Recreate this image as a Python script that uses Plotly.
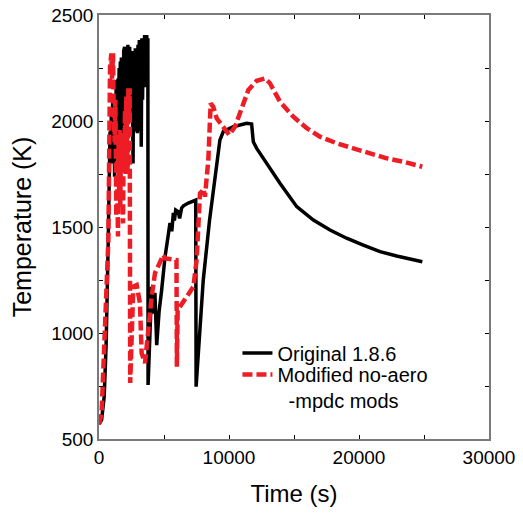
import plotly.graph_objects as go

# Original 1.8.6 (black, solid)
orig_t = [0, 200, 400, 550, 700, 800, 850, 900, 950, 1000, 1050, 1100, 1150, 1200,
          1250, 1300, 1330, 1380, 1420, 1460, 1500, 1550, 1590, 1640, 1680, 1720,
          1760, 1800, 1850, 1900, 1970, 2030, 2100, 2160, 2220, 2280, 2360, 2420,
          2480, 2540, 2580, 2620, 2660, 2700, 2740, 2790, 2840, 2900, 2950, 3000,
          3050, 3100, 3150, 3200, 3250, 3300, 3350, 3410, 3460, 3510, 3560, 3620,
          3670, 3720, 3760, 3775, 3900, 4050, 4180, 4300, 4440, 4620, 4820, 5080,
          5300, 5460, 5600, 5720, 5800, 5900, 6100, 6200, 6360, 6500, 6870, 7200,
          7440, 7470, 8020, 8500, 8920, 9300, 9560, 10330, 11360, 11740, 11870,
          12130, 12900, 13920, 15210, 16490, 17770, 19050, 20330, 21620, 22900,
          24180, 24870]
orig_T = [570, 590, 700, 950, 1400, 1700, 1950, 1800, 2050, 1850, 2100, 1800, 2000,
          1737, 2000, 2150, 2193, 1850, 1900, 2200, 2050, 2250, 2005, 2280, 1950, 2300,
          1850, 2250, 1870, 2330, 2350, 2150, 2340, 2050, 2360, 2150, 2350, 2200,
          2100, 2330, 1900, 1800, 2250, 2178, 1950, 2343, 2050, 2343, 1942, 2360,
          2000, 2382, 1950, 2370, 1879, 2390, 2100, 2390, 2300, 2406, 2160, 2400,
          2406, 2300, 2390, 755, 1000, 1218, 1092, 1190, 943, 1100, 1203, 1360,
          1450, 1519, 1480, 1566, 1530, 1580, 1572, 1540, 1590, 1600, 1613, 1620,
          1627, 747, 1250, 1530, 1722, 1910, 1950, 1973, 1989, 1986, 1902,
          1871, 1800, 1706, 1596, 1533, 1486, 1447, 1415, 1384, 1363,
          1348, 1336]

# Modified no-aero -mpdc mods (red, dashed)
mod_t = [0, 200, 330, 460, 590, 720, 850, 950, 1000, 1080, 1130, 1200, 1260, 1330,
         1380, 1420, 1460, 1500, 1550, 1590, 1640, 1680, 1720, 1780, 1850, 1900,
         1950, 2000, 2050, 2100, 2150, 2200, 2260, 2310, 2360, 2380, 2400, 2640,
         2900, 3150, 3280, 3540, 3700, 3920, 4050, 4310, 4690, 4950, 5080, 5960,
         5990, 6050, 6490, 7000, 7260, 7510, 7640, 7770, 7900, 8030, 8150, 8410,
         8590, 8790, 9050, 9560, 10020, 10460, 10980, 11490, 12130, 12770, 13150,
         13920, 14950, 15980, 17000, 18280, 19560, 20850, 22130, 23410, 24870]
mod_T = [570, 620, 825, 1000, 1250, 1439, 2256, 2319, 2200, 2319, 2050, 1900, 2100,
         1549, 1850, 1700, 1455, 1900, 1650, 1958, 1600, 1850, 1900, 1700, 1517, 1950,
         1800, 2050, 1750, 2115, 1900, 1753, 2154, 2000, 2154, 1800, 764, 1218,
         1226, 1140, 905, 858, 960, 1092, 1171, 1283, 1330, 1368, 1352, 1344,
         841, 1108, 1148, 1195, 1218, 1344, 1500, 1659, 1667, 1680, 1643, 1816,
         2083, 2067, 2013, 1973, 1934, 1973, 2068, 2146, 2190, 2201, 2178,
         2091, 2020, 1966, 1926, 1895, 1871, 1848, 1824, 1808, 1784]

x_ticks = [0, 10000, 20000, 30000]
y_ticks = [500, 1000, 1500, 2000, 2500]

FONT = "Liberation Sans, Arial, sans-serif"

fig = go.Figure()
fig.add_trace(go.Scatter(x=orig_t, y=orig_T, mode="lines", name="Original 1.8.6",
                         line=dict(color="black", width=3.5), legend="legend",
                         showlegend=True))
fig.add_trace(go.Scatter(x=mod_t, y=mod_T, mode="lines",
                         name="Modified no-aero<br>\u00a0\u00a0-mpdc mods",
                         line=dict(color="#ee1c25", width=4.5, dash="10px,4px"),
                         legend="legend2", showlegend=True))

axis_common = dict(showline=True, linecolor="#7a7a7a", linewidth=1.5, mirror="ticks",
                   ticks="inside", ticklen=4, tickcolor="black", tickwidth=1,
                   showgrid=False, zeroline=False, automargin=False,
                   tickfont=dict(family=FONT, size=19, color="black"))

fig.update_xaxes(range=[0, 30000], tickvals=x_ticks, ticktext=[str(v) for v in x_ticks],
                 minor=dict(dtick=5000, ticks="inside", ticklen=4, tickcolor="black"),
                 title=dict(text="Time (s)", font=dict(family=FONT, size=24, color="black"),
                            standoff=19),
                 **axis_common)
fig.update_yaxes(range=[500, 2500], tickvals=y_ticks, ticktext=[str(v) for v in y_ticks],
                 minor=dict(dtick=250, ticks="inside", ticklen=4, tickcolor="black"),
                 title=dict(text="Temperature (K)", font=dict(family=FONT, size=25, color="black"),
                            standoff=12),
                 **axis_common)

legend_style = dict(xanchor="left", yanchor="top", valign="top",
                    bgcolor="rgba(0,0,0,0)", font=dict(family=FONT, size=20, color="black"),
                    itemwidth=30, visible=True)

fig.update_layout(
    width=523, height=513,
    margin=dict(l=99, r=34, t=15, b=74),
    paper_bgcolor="white", plot_bgcolor="white",
    font=dict(family=FONT, color="black"),
    showlegend=True,
    legend=dict(x=0.355, y=0.249, **legend_style),
    legend2=dict(x=0.355, y=0.198, **legend_style),
)

fig.write_html("out.html", post_script="document.body.style.margin='0';",
               config={"displayModeBar": False})
